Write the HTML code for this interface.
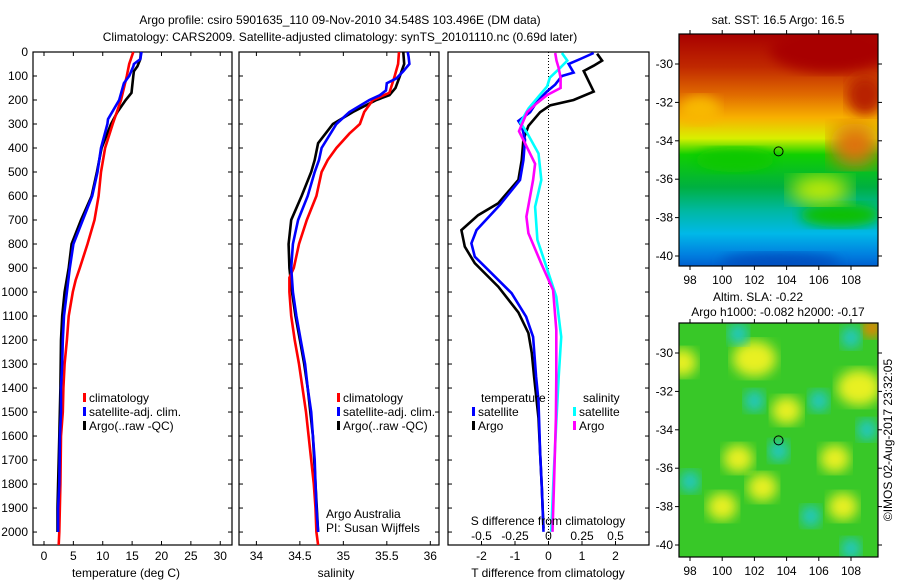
<!DOCTYPE html>
<html><head><meta charset="utf-8">
<style>
body{margin:0;background:#fff;}
svg{display:block;font-family:"Liberation Sans",sans-serif;font-size:12px;}
</style></head>
<body>
<svg id="chart" width="900" height="580" viewBox="0 0 900 580">
<defs>
<linearGradient id="sstGrad" x1="0" y1="0" x2="0" y2="1">
<stop offset="0" stop-color="#a80000"/><stop offset="0.14" stop-color="#c02800"/>
<stop offset="0.26" stop-color="#e06a00"/><stop offset="0.36" stop-color="#f8b000"/>
<stop offset="0.45" stop-color="#d8f000"/><stop offset="0.52" stop-color="#10d000"/>
<stop offset="0.66" stop-color="#00b040"/><stop offset="0.76" stop-color="#00b8a0"/>
<stop offset="0.86" stop-color="#00b8e8"/><stop offset="0.95" stop-color="#0080e0"/><stop offset="1" stop-color="#0060d0"/>
</linearGradient>
<filter id="blur6"><feGaussianBlur stdDeviation="6"/></filter>
<filter id="blur10"><feGaussianBlur stdDeviation="10"/></filter>
<clipPath id="clipTop"><rect x="679" y="34" width="199" height="232"/></clipPath>
<clipPath id="clipBot"><rect x="679" y="323" width="199" height="234"/></clipPath>
</defs>
<g id="root"></g>
</svg>
<script>
// ---- data ----
const depthTicks=[0,100,200,300,400,500,600,700,800,900,1000,1100,1200,1300,1400,1500,1600,1700,1800,1900,2000];
const tempTicks=[0,5,10,15,20,25,30];
const salTicks=[34,34.5,35,35.5,36];
const tdiffTicks=[-2,-1,0,1,2];
const sdiffTicks=[-0.5,-0.25,0,0.25,0.5];
const sdiffLabels=["-0.5","-0.25","0","0.25","0.5"];
const lonTicks=[98,100,102,104,106,108];
const latTicks=[-30,-32,-34,-36,-38,-40];

const tClimD=[0,50,100,200,300,400,500,600,700,800,900,950,1000,1100,1200,1300,1400,1500,1600,1800,2000,2054];
const tClimV=[15.2,14.5,14.1,13.1,11.7,10.4,9.7,9.3,8.6,7.4,6.1,5.4,4.9,4.2,3.9,3.5,3.3,3.2,2.9,2.8,2.6,2.5];
const tSatD=[0,30,50,60,100,130,200,280,300,400,500,600,700,800,900,1000,1100,1200,1300,1400,1500,1600,1800,1900,2000];
const tSatV=[16.6,16.4,15.3,15.2,14.5,13.6,12.8,10.9,10.8,9.7,9.1,8.2,6.6,5.0,4.4,3.9,3.4,3.2,3.1,2.9,2.9,2.7,2.6,2.4,2.4];
const tArgD=[0,30,60,80,100,170,200,250,300,400,500,600,700,800,900,1000,1100,1200,1400,1600,1800,1900,2000];
const tArgV=[16.5,16.4,15.9,15.3,15.2,14.9,13.9,12.5,11.4,9.8,9.0,8.1,6.3,4.7,4.2,3.5,3.1,2.9,2.8,2.6,2.4,2.3,2.3];

const sClimD=[0,50,100,170,200,250,300,340,400,450,500,600,700,800,900,940,1000,1100,1200,1300,1400,1500,1600,1700,1800,1900,2000,2054];
const sClimV=[35.64,35.63,35.59,35.53,35.34,35.24,35.19,35.07,34.92,34.82,34.75,34.69,34.58,34.49,34.43,34.38,34.38,34.40,34.44,34.49,34.53,34.57,34.60,34.63,34.66,34.68,34.69,34.71];
const sSatD=[0,20,50,80,110,130,160,180,200,250,300,400,450,500,600,700,800,900,1000,1100,1200,1300,1400,1500,1600,1700,1800,1900,2000];
const sSatV=[35.74,35.75,35.76,35.69,35.61,35.50,35.49,35.42,35.30,35.07,34.92,34.75,34.72,34.67,34.59,34.48,34.42,34.40,34.42,34.46,34.51,34.56,34.59,34.63,34.65,34.67,34.68,34.69,34.71];
const sArgD=[0,50,100,150,180,200,250,300,380,450,500,600,700,800,900,1000,1100,1200,1300,1400,1500,1600,1800,2000];
const sArgV=[35.69,35.70,35.65,35.60,35.53,35.38,35.11,34.88,34.71,34.67,34.63,34.52,34.40,34.37,34.38,34.41,34.45,34.50,34.55,34.59,34.62,34.65,34.68,34.71];

const dTArgD=[7,36,57,79,122,165,200,222,251,308,365,451,533,630,680,742,811,880,978,1085,1171,1255,1353,1526,1669,1813,1985];
const dTArgV=[1.45,1.6,1.35,1.05,1.2,1.35,0.75,0.05,-0.25,-0.6,-0.75,-0.8,-0.9,-1.5,-2.1,-2.6,-2.5,-2.2,-1.5,-0.9,-0.6,-0.5,-0.43,-0.3,-0.25,-0.2,-0.15];
const dTSatD=[4,29,50,86,100,136,165,208,251,287,308,365,451,533,637,742,797,853,908,1005,1103,1187,1353,1455,1669,1813,1999];
const dTSatV=[1.35,0.95,0.6,0.75,0.4,0.2,-0.05,-0.35,-0.55,-0.9,-0.8,-0.7,-0.75,-0.85,-1.45,-2.15,-2.3,-2.2,-1.8,-1.1,-0.67,-0.46,-0.37,-0.3,-0.25,-0.2,-0.15];
const dSSatD=[4,36,64,107,143,186,236,294,337,423,533,645,783,895,1020,1187,1353,1526,1741,1999];
const dSSatV=[0.1,0.14,0.09,0.01,-0.01,-0.075,-0.15,-0.21,-0.16,-0.075,-0.054,-0.1,-0.083,-0.016,0.058,0.095,0.076,0.06,0.04,0.02];
const dSArgD=[4,36,64,107,150,179,215,251,330,380,466,533,686,755,880,992,1158,1353,1526,1813,1999];
const dSArgV=[0.05,0.06,0.075,0.09,0.09,-0.01,-0.09,-0.16,-0.22,-0.175,-0.1,-0.115,-0.165,-0.15,-0.055,0.034,0.058,0.058,0.055,0.04,0.03];

// map features (lon, lat)
const sstLon=[103.5], sstLat=[-34.55];
const slaYellowLon=[102,108.5,97.5,107,102.5,107.5,100,104,101],slaYellowLat=[-30.3,-31.8,-30.5,-35.5,-37,-38,-38,-33,-35.5];
const slaCyanLon=[108,102,106,109,103.5,98,105.5,108,101],slaCyanLat=[-29.2,-32.5,-32.5,-34,-35.1,-36.7,-38.5,-40.2,-29];

// ---- helpers ----
const NS="http://www.w3.org/2000/svg";
const root=document.getElementById('root');
function el(tag,attrs,parent){const e=document.createElementNS(NS,tag);for(const k in attrs)e.setAttribute(k,attrs[k]);(parent||root).appendChild(e);return e;}
function txt(x,y,s,anchor,parent,extra){const t=el('text',Object.assign({x:x,y:y,'text-anchor':anchor||'middle',fill:'#000'},extra||{}),parent);t.textContent=s;return t;}
const Y0=52,Y1=545,DMAX=2054;
const yD=d=>Y0+(Y1-Y0)*d/DMAX;
function lin(a,b,pa,pb){return v=>pa+(v-a)*(pb-pa)/(b-a);}
const xT=lin(-1.87,32,33,232), xS=lin(33.80,36.10,239,439);
const xDT=lin(-3,3,448,649), xDS=lin(-0.75,0.75,448,649);

// titles
let t=txt(340,24,"Argo profile: csiro 5901635_110 09-Nov-2010 34.548S 103.496E (DM data)");

t=txt(340,41,"Climatology: CARS2009. Satellite-adjusted climatology: synTS_20101110.nc (0.69d later)");


function panel(x0,x1,name){
  const g=el('g',{});
  
  
  el('rect',{x:x0,y:Y0,width:x1-x0,height:Y1-Y0,fill:'none',stroke:'#000','stroke-width':1.2},g);
  depthTicks.forEach(d=>{const y=yD(d);
    el('line',{x1:x0,x2:x0+4,y1:y,y2:y,stroke:'#000'},g);
    el('line',{x1:x1-4,x2:x1,y1:y,y2:y,stroke:'#000'},g);});
  return g;
}
function series(g,D,V,xf,color,name){
  const p=el('polyline',{points:D.map((d,i)=>xf(V[i]).toFixed(1)+','+yD(d).toFixed(1)).join(' '),fill:'none',stroke:color,'stroke-width':2.6,'stroke-linejoin':'miter'},g);
  
  
}
function xticks(g,ticks,labels,xf,y,top){
  ticks.forEach((v,i)=>{const x=xf(v);
    el('line',{x1:x,x2:x,y1:Y1,y2:Y1-4,stroke:'#000'},g);
    if(top) el('line',{x1:x,x2:x,y1:Y0,y2:Y0+4,stroke:'#000'},g);
    const l=txt(x,y,labels[i],'middle',g);
    
    });
}
function legendEntry(g,x,y,color,label){
  el('rect',{x:x,y:y-9,width:3,height:9,fill:color},g);
  const l=txt(x+6,y,label,'start',g);
  
  
}

// panel 1 temperature
const g1=panel(33,232,'temperature-panel');
depthTicks.forEach(d=>{const l=txt(28,yD(d)+4,String(d),'end',g1);
  
  });
xticks(g1,tempTicks,tempTicks.map(String),xT,560,true);
t=txt(126,577,"temperature (deg C)",'middle',g1);

series(g1,tArgD,tArgV,xT,'#000','argo-temperature-line');
series(g1,tClimD,tClimV,xT,'#f00','climatology-temperature-line');
series(g1,tSatD,tSatV,xT,'#00f','satellite-temperature-line');
legendEntry(g1,83,402,'#f00','climatology');
legendEntry(g1,83,416,'#00f','satellite-adj. clim.');
legendEntry(g1,83,430,'#000','Argo(..raw -QC)');

// panel 2 salinity
const g2=panel(239,439,'salinity-panel');
xticks(g2,salTicks,salTicks.map(String),xS,560,true);
t=txt(336,577,"salinity",'middle',g2);

series(g2,sArgD,sArgV,xS,'#000','argo-salinity-line');
series(g2,sClimD,sClimV,xS,'#f00','climatology-salinity-line');
series(g2,sSatD,sSatV,xS,'#00f','satellite-salinity-line');
legendEntry(g2,337,402,'#f00','climatology');
legendEntry(g2,337,416,'#00f','satellite-adj. clim.');
legendEntry(g2,337,430,'#000','Argo(..raw -QC)');
t=txt(326,518,"Argo Australia",'start',g2);

t=txt(326,532,"PI: Susan Wijffels",'start',g2);


// panel 3 differences
const g3=panel(448,649,'difference-panel');
el('line',{x1:xDT(0),x2:xDT(0),y1:Y0,y2:Y1,stroke:'#000','stroke-dasharray':'1,2'},g3);
xticks(g3,tdiffTicks,tdiffTicks.map(String),xDT,560,false);
sdiffTicks.forEach((v,i)=>{const l=txt(xDS(v),540,sdiffLabels[i],'middle',g3);
  
  });
series(g3,dTArgD,dTArgV,xDT,'#000','argo-t-diff-line');
series(g3,dTSatD,dTSatV,xDT,'#00f','satellite-t-diff-line');
series(g3,dSSatD,dSSatV,xDS,'#0ff','satellite-s-diff-line');
series(g3,dSArgD,dSArgV,xDS,'#f0f','argo-s-diff-line');
t=txt(548,525,"S difference from climatology",'middle',g3);

t=txt(548,577,"T difference from climatology",'middle',g3);

t=txt(481,402,"temperature",'start',g3);
t=txt(583,402,"salinity",'start',g3);
legendEntry(g3,472,416,'#00f','satellite');
legendEntry(g3,472,430,'#000','Argo');
legendEntry(g3,573,416,'#0ff','satellite');
legendEntry(g3,573,430,'#f0f','Argo');

// maps
const xL=lin(98,108,690,851);
function mapAxes(g,yoff){
  const yL=lat=>64+yoff-(lat+30)*19.2;
  const ex=yoff?2:0;
  el('rect',{x:679,y:34+yoff,width:199,height:232+ex,fill:'none',stroke:'#000','stroke-width':1.2},g);
  lonTicks.forEach(v=>{const x=xL(v);
    el('line',{x1:x,x2:x,y1:34+yoff,y2:30+yoff,stroke:'#000'},g);
    el('line',{x1:x,x2:x,y1:266+yoff+ex,y2:270+yoff+ex,stroke:'#000'},g);
    const l=txt(x,284+yoff+ex,String(v),'middle',g);
    });
  latTicks.forEach(v=>{const y=yL(v);
    el('line',{x1:675,x2:679,y1:y,y2:y,stroke:'#000'},g);
    el('line',{x1:878,x2:882,y1:y,y2:y,stroke:'#000'},g);
    const l=txt(673,y+4,String(v),'end',g);
    });
  return yL;
}
// SST map
const gm1=el('g',{});


const c1=el('g',{'clip-path':'url(#clipTop)'},gm1);
el('rect',{x:679,y:34,width:199,height:232,fill:'url(#sstGrad)'},c1);
el('ellipse',{cx:830,cy:50,rx:60,ry:22,fill:'#a80000',filter:'url(#blur6)'},c1);
el('ellipse',{cx:865,cy:95,rx:18,ry:20,fill:'#b82000',filter:'url(#blur6)'},c1);
el('ellipse',{cx:855,cy:145,rx:25,ry:22,fill:'#e07010',filter:'url(#blur10)'},c1);
el('ellipse',{cx:700,cy:110,rx:20,ry:14,fill:'#f8b800',filter:'url(#blur6)'},c1);
el('ellipse',{cx:735,cy:160,rx:40,ry:12,fill:'#10c800',filter:'url(#blur6)'},c1);
el('ellipse',{cx:840,cy:215,rx:40,ry:12,fill:'#10c000',filter:'url(#blur6)'},c1);
el('ellipse',{cx:820,cy:190,rx:30,ry:14,fill:'#d0f000',filter:'url(#blur10)'},c1);
el('ellipse',{cx:780,cy:263,rx:60,ry:10,fill:'#0050c0',filter:'url(#blur6)'},c1);
const yLt=mapAxes(gm1,0);
let circ=el('circle',{cx:xL(sstLon[0]),cy:yLt(sstLat[0]),r:4.5,fill:'none',stroke:'#000'},gm1);

t=txt(778,24,"sat. SST: 16.5 Argo: 16.5",'middle',gm1);


// SLA map
const gm2=el('g',{});


const c2=el('g',{'clip-path':'url(#clipBot)'},gm2);
el('rect',{x:679,y:323,width:199,height:234,fill:'#38c828'},c2);
const yLb=lat=>64+289-(lat+30)*19.2;
el('ellipse',{cx:872,cy:328,rx:10,ry:10,fill:'#f08000',filter:'url(#blur6)'},c2);
slaYellowLon.forEach((lon,i)=>{el('ellipse',{cx:xL(lon),cy:yLb(slaYellowLat[i]),rx:i<2?22:15,ry:i<2?18:14,fill:'#e8f020',filter:'url(#blur6)'},c2);});
slaCyanLon.forEach((lon,i)=>{el('ellipse',{cx:xL(lon),cy:yLb(slaCyanLat[i]),rx:10,ry:11,fill:'#20c8c8',filter:'url(#blur6)'},c2);});
mapAxes(gm2,289);
circ=el('circle',{cx:xL(sstLon[0]),cy:yLb(sstLat[0]),r:4.5,fill:'none',stroke:'#000'},gm2);

t=txt(758,301,"Altim. SLA: -0.22",'middle',gm2);

t=txt(778,316,"Argo h1000: -0.082 h2000: -0.17",'middle',gm2);

t=txt(0,0,"©IMOS 02-Aug-2017 23:32:05",'middle',gm2,{transform:'translate(892,440) rotate(-90)'});

</script>
</body></html>
